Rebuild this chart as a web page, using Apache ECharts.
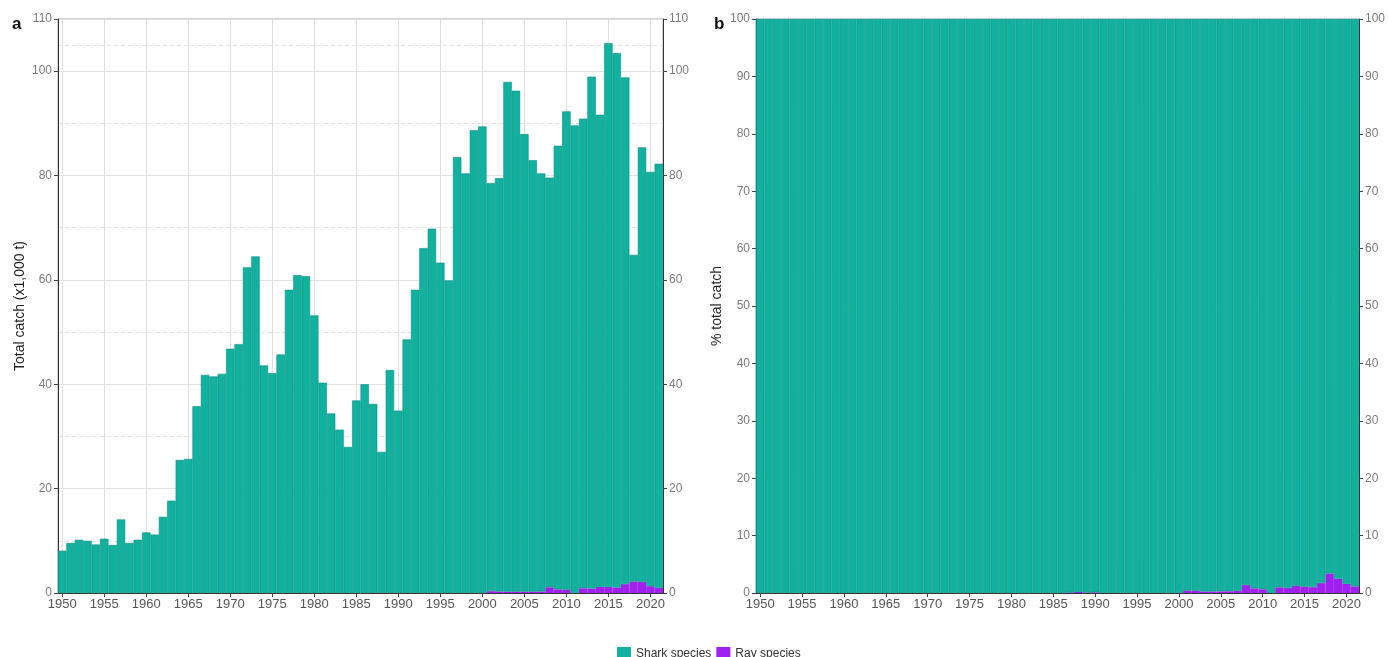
<!DOCTYPE html>
<html>
<head>
<meta charset="utf-8">
<title>Shark and ray catch</title>
<script src="https://cdn.jsdelivr.net/npm/echarts@6/dist/echarts.min.js"></script>
<style>
  html, body { margin: 0; padding: 0; background: #ffffff; }
  #chart { width: 1388px; height: 657px; }
</style>
</head>
<body>
<div id="chart"></div>
<script>
// Annual catch, thousand tonnes, 1950-2021
const FIRST_YEAR = 1950;
const LAST_YEAR = 2021;
const years = [];
for (let y = FIRST_YEAR; y <= LAST_YEAR; y++) years.push(String(y));

const sharkCatch = [
  8.1, 9.6, 10.2, 10.0, 9.3, 10.4, 9.2, 14.1, 9.6, 10.2,      // 1950-1959
  11.6, 11.2, 14.6, 17.7, 25.5, 25.7, 35.8, 41.8, 41.5, 42.0, // 1960-1969
  46.8, 47.7, 62.4, 64.5, 43.6, 42.1, 45.7, 58.1, 60.9, 60.7, // 1970-1979
  53.2, 40.3, 34.4, 31.3, 28.0, 36.9, 40.0, 36.2, 27.0, 42.7, // 1980-1989
  34.9, 48.6, 58.1, 66.1, 69.8, 63.3, 59.9, 83.5, 80.4, 88.7, // 1990-1999
  89.4, 78.2, 79.2, 97.7, 96.0, 87.7, 82.7, 80.1, 78.5, 85.0, // 2000-2009
  91.7, 89.6, 90.0, 98.1, 90.5, 104.2, 102.4, 97.1, 62.6, 83.3, // 2010-2019
  79.4, 81.3                                                   // 2020-2021
];

const rayCatch = [
  0, 0, 0, 0, 0, 0, 0, 0, 0, 0,                               // 1950-1959
  0, 0, 0, 0, 0, 0, 0, 0, 0, 0,                               // 1960-1969
  0, 0, 0, 0, 0, 0, 0, 0, 0, 0,                               // 1970-1979
  0, 0, 0, 0, 0, 0, 0, 0.03, 0.05, 0.03,                      // 1980-1989
  0.04, 0, 0, 0, 0, 0, 0, 0, 0, 0,                            // 1990-1999
  0, 0.35, 0.3, 0.25, 0.25, 0.25, 0.25, 0.3, 1.1, 0.7,        // 2000-2009
  0.6, 0, 0.9, 0.85, 1.15, 1.15, 1.05, 1.7, 2.2, 2.1,         // 2010-2019
  1.3, 0.95                                                   // 2020-2021
];

const yearTicks = [1950, 1955, 1960, 1965, 1970, 1975, 1980, 1985, 1990, 1995, 2000, 2005, 2010, 2015, 2020];
const minorCatchLines = [10, 30, 50, 70, 90, 105];

const SHARK_COLOR = '#11b1a0';
const SHARK_EDGE = '#0b8f81';
const RAY_COLOR = '#a020f0';
const FONT = 'Liberation Sans, Arial, sans-serif';

// Share of each group in the yearly total
const sharkShare = years.map((y, i) => {
  const t = sharkCatch[i] + rayCatch[i];
  return t > 0 ? sharkCatch[i] / t * 100 : 0;
});
const rayShare = years.map((y, i) => {
  const t = sharkCatch[i] + rayCatch[i];
  return t > 0 ? rayCatch[i] / t * 100 : 0;
});

// Hidden band axis that places one bar per year
function bandAxis(gridIndex) {
  return {
    type: 'category',
    gridIndex: gridIndex,
    data: years,
    boundaryGap: true,
    show: false
  };
}

// Visible year scale: ticks, labels and vertical grid at bar centres
function yearAxis(gridIndex, showGrid) {
  return {
    type: 'value',
    gridIndex: gridIndex,
    position: 'bottom',
    min: FIRST_YEAR - 0.5,
    max: LAST_YEAR + 0.5,
    axisLine: { show: true, lineStyle: { color: '#333', width: 1 } },
    axisTick: { show: true, length: 4, customValues: yearTicks, lineStyle: { color: '#444' } },
    axisLabel: {
      customValues: yearTicks, color: '#555', fontSize: 13, fontFamily: FONT, margin: 5,
      formatter: (v) => String(v)
    },
    splitLine: { show: showGrid, lineStyle: { color: '#dedede', width: 1 } }
  };
}

function catchAxis(gridIndex, position, max, interval, showGrid, name, gap) {
  return {
    type: 'value',
    gridIndex: gridIndex,
    position: position,
    min: 0,
    max: max,
    interval: interval,
    name: name || '',
    nameLocation: 'middle',
    nameRotate: 90,
    nameGap: gap || 30,
    nameTextStyle: { color: '#222', fontSize: 14, fontFamily: FONT },
    axisLine: { show: true, lineStyle: { color: '#333', width: 1 } },
    axisTick: { show: true, length: 4, lineStyle: { color: '#444' } },
    axisLabel: { color: '#7a7a7a', fontSize: 12, fontFamily: FONT, margin: 6 },
    splitLine: { show: showGrid, lineStyle: { color: '#e2e2e2', width: 1 } }
  };
}

const chart = echarts.init(document.getElementById('chart'), null, { renderer: 'canvas' });

chart.setOption({
  animation: false,
  backgroundColor: '#ffffff',
  textStyle: { fontFamily: FONT },
  graphic: [
    { type: 'text', left: 12, top: 16, style: { text: 'a', fontSize: 17, fontWeight: 'bold', fill: '#111', fontFamily: FONT } },
    { type: 'text', left: 714, top: 16, style: { text: 'b', fontSize: 17, fontWeight: 'bold', fill: '#111', fontFamily: FONT } }
  ],
  legend: {
    left: 612,
    top: 642,
    itemWidth: 14,
    itemHeight: 14,
    itemGap: 5,
    icon: 'rect',
    itemStyle: { borderWidth: 0 },
    data: ['Shark species', 'Ray species'],
    textStyle: { color: '#333', fontSize: 12, fontFamily: FONT }
  },
  grid: [
    { left: 58, top: 19, width: 605, height: 574, show: true, borderColor: '#a6a6a6', borderWidth: 1 },
    { left: 756, top: 19, width: 607, height: 574, show: true, borderColor: '#a6a6a6', borderWidth: 1 }
  ],
  xAxis: [bandAxis(0), bandAxis(1), yearAxis(0, true), yearAxis(1, false)],
  yAxis: [
    catchAxis(0, 'left', 110, 20, true, 'Total catch (x1,000 t)', 31),
    catchAxis(0, 'right', 110, 20, false),
    {
      // dashed minor grid between the labelled values
      type: 'value', gridIndex: 0, position: 'left', min: 0, max: 110,
      axisLine: { show: false }, axisLabel: { show: false },
      axisTick: { show: false, customValues: minorCatchLines },
      splitLine: { show: true, lineStyle: { color: '#e4e4e4', type: [4, 3], width: 1 } }
    },
    catchAxis(1, 'left', 100, 10, false, '% total catch', 32),
    catchAxis(1, 'right', 100, 10, false)
  ],
  series: [
    {
      name: 'Ray species', type: 'bar', xAxisIndex: 0, yAxisIndex: 0, stack: 'catch',
      barCategoryGap: '0%', data: rayCatch,
      itemStyle: { color: RAY_COLOR, borderWidth: 0 }
    },
    {
      name: 'Shark species', type: 'bar', xAxisIndex: 0, yAxisIndex: 0, stack: 'catch',
      barCategoryGap: '0%', data: sharkCatch,
      itemStyle: { color: SHARK_COLOR, borderColor: SHARK_EDGE, borderWidth: 0.6 }
    },
    {
      name: 'Ray species', type: 'bar', xAxisIndex: 1, yAxisIndex: 3, stack: 'share',
      barCategoryGap: '0%', data: rayShare,
      itemStyle: { color: RAY_COLOR, borderWidth: 0 }
    },
    {
      name: 'Shark species', type: 'bar', xAxisIndex: 1, yAxisIndex: 3, stack: 'share',
      barCategoryGap: '0%', data: sharkShare,
      itemStyle: { color: SHARK_COLOR, borderColor: SHARK_EDGE, borderWidth: 0.6 }
    }
  ]
});
</script>
</body>
</html>
